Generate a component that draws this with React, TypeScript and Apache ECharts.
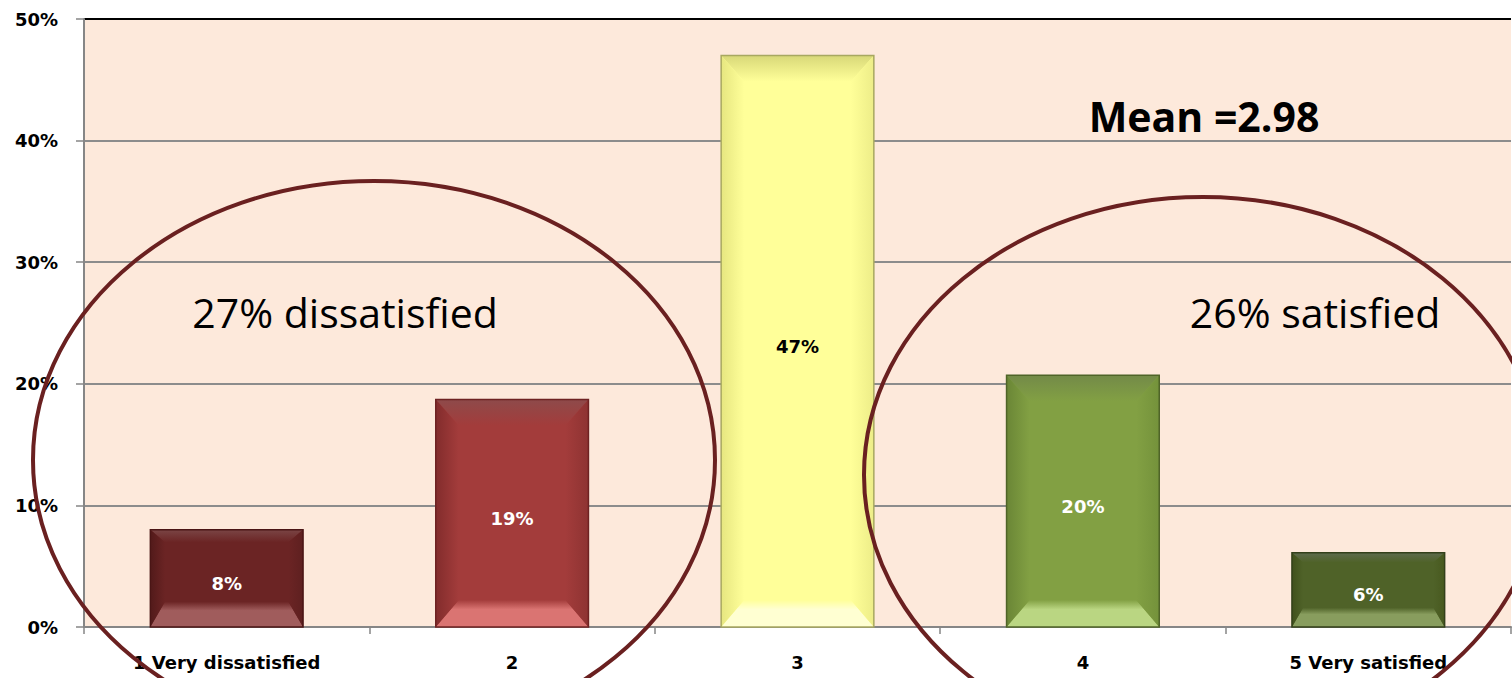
import React, { useEffect, useRef } from "react";
import * as echarts from "echarts";

const categories = ["1 Very dissatisfied", "2", "3", "4", "5 Very satisfied"];
const values = [8.0, 18.7, 47.0, 20.7, 6.1];
const valueLabels = ["8%", "19%", "47%", "20%", "6%"];
const yMin = 0;
const yMax = 50;
const yInterval = 10;

// face, top facet, bottom facet, left facet, right facet, outline, label colour
const faceColors = ["#6B2424", "#A33C3B", "#FFFF99", "#82A043", "#4F6228"];
const topColors = ["#7A4545", "#8E4A4A", "#D8D878", "#738A48", "#5E6B4E"];
const bottomColors = ["#A05C5C", "#DA7472", "#FFFFD2", "#BAD682", "#889D5E"];
const leftColors = ["#521A1A", "#822C2C", "#E6E680", "#6A8636", "#40511C"];
const rightColors = ["#5E2020", "#8E3332", "#EDED88", "#74923B", "#48591F"];
const outlineColors = ["#4A1515", "#6E2222", "#A8A860", "#4F6428", "#33401A"];
const labelColors = ["#FFFFFF", "#FFFFFF", "#000000", "#FFFFFF", "#FFFFFF"];

const annotations = {
  left: "27% dissatisfied",
  right: "26% satisfied",
  mean: "Mean =2.98",
};

export default function App() {
  const ref = useRef<HTMLDivElement>(null);

  useEffect(() => {
    if (!ref.current) return;
    const chart = echarts.init(ref.current, null, { renderer: "svg" });
    const LG = echarts.graphic.LinearGradient;

    const renderItem = (params: any, api: any) => {
      const idx = api.value(0);
      const val = api.value(1);
      const topPt = api.coord([idx, val]);
      const basePt = api.coord([idx, 0]);
      const cx = topPt[0];
      const top = topPt[1];
      const base = basePt[1];
      const bw = api.size([1, 0])[0] * 0.535;
      const l = cx - bw / 2;
      const r = cx + bw / 2;
      const h = base - top;
      const bx = Math.min(23, h * 0.15);
      const byTop = Math.min(26, h * 0.13);
      const byBot = Math.min(27, h * 0.26);
      const i = params.dataIndex;
      const f = faceColors[i];
      return {
        type: "group",
        children: [
          {
            type: "rect",
            shape: { x: l, y: top, width: bw, height: h },
            style: { fill: f },
          },
          {
            type: "polygon",
            shape: { points: [[l, top], [r, top], [r - bx, top + byTop], [l + bx, top + byTop]] },
            style: {
              fill: new LG(0, 0, 0, 1, [
                { offset: 0, color: topColors[i] },
                { offset: 1, color: f },
              ]),
            },
          },
          {
            type: "polygon",
            shape: { points: [[l, base], [r, base], [r - bx, base - byBot], [l + bx, base - byBot]] },
            style: {
              fill: new LG(0, 0, 0, 1, [
                { offset: 0, color: f },
                { offset: 0.35, color: bottomColors[i] },
                { offset: 1, color: bottomColors[i] },
              ]),
            },
          },
          {
            type: "polygon",
            shape: { points: [[l, top], [l + bx, top + byTop], [l + bx, base - byBot], [l, base]] },
            style: {
              fill: new LG(0, 0, 1, 0, [
                { offset: 0, color: leftColors[i] },
                { offset: 1, color: f },
              ]),
            },
          },
          {
            type: "polygon",
            shape: { points: [[r, top], [r - bx, top + byTop], [r - bx, base - byBot], [r, base]] },
            style: {
              fill: new LG(1, 0, 0, 0, [
                { offset: 0, color: rightColors[i] },
                { offset: 1, color: f },
              ]),
            },
          },
          {
            type: "rect",
            shape: { x: l, y: top, width: bw, height: h },
            style: { fill: "none", stroke: outlineColors[i], lineWidth: 1.5 },
          },
          {
            type: "text",
            x: cx,
            y: (top + base) / 2 + 5,
            style: {
              text: valueLabels[i],
              fill: labelColors[i],
              fontFamily: "DejaVu Sans",
              fontWeight: "bold",
              fontSize: 18,
              align: "center",
              verticalAlign: "middle",
            },
          },
        ],
      };
    };

    chart.setOption({
      animation: false,
      backgroundColor: "#FFFFFF",
      grid: {
        left: 84,
        right: 1,
        top: 19,
        bottom: 51,
        show: true,
        backgroundColor: "#FDE9DB",
        borderWidth: 0,
        outerBoundsMode: "none",
        containLabel: false,
      },
      xAxis: {
        type: "category",
        data: categories,
        axisLine: { show: true, lineStyle: { color: "#868686", width: 2 } },
        axisTick: { show: true, length: 7, lineStyle: { color: "#868686", width: 1.5 } },
        axisLabel: {
          color: "#000",
          fontFamily: "DejaVu Sans",
          fontWeight: "bold",
          fontSize: 18,
          margin: 26,
          interval: 0,
        },
        splitLine: { show: false },
      },
      yAxis: {
        type: "value",
        min: yMin,
        max: yMax,
        interval: yInterval,
        axisLine: { show: true, lineStyle: { color: "#868686", width: 2 } },
        axisTick: { show: true, length: 8, lineStyle: { color: "#868686", width: 1.5 } },
        axisLabel: {
          formatter: "{value}%",
          color: "#000",
          fontFamily: "DejaVu Sans",
          fontWeight: "bold",
          fontSize: 18,
          margin: 26,
        },
        splitLine: {
          show: true,
          lineStyle: {
            color: ["#8C8C8C", "#8C8C8C", "#8C8C8C", "#8C8C8C", "#8C8C8C", "#000000"],
            width: 1.8,
          },
        },
      },
      series: [
        {
          type: "custom",
          renderItem,
          data: values.map((v, i) => [i, v]),
          encode: { x: 0, y: 1 },
          z: 3,
        },
      ],
      graphic: [
        {
          type: "ellipse",
          z: 100,
          shape: { cx: 374, cy: 460, rx: 341, ry: 279 },
          style: { fill: "none", stroke: "#6A2020", lineWidth: 4 },
        },
        {
          type: "ellipse",
          z: 100,
          shape: { cx: 1203, cy: 475, rx: 339, ry: 278 },
          style: { fill: "none", stroke: "#6A2020", lineWidth: 4 },
        },
        {
          type: "text",
          z: 100,
          x: 345,
          y: 312,
          style: {
            text: annotations.left,
            fill: "#000",
            fontFamily: "Open Sans",
            fontSize: 41,
            align: "center",
            verticalAlign: "middle",
          },
        },
        {
          type: "text",
          z: 100,
          x: 1315,
          y: 312,
          style: {
            text: annotations.right,
            fill: "#000",
            fontFamily: "Open Sans",
            fontSize: 41,
            align: "center",
            verticalAlign: "middle",
          },
        },
        {
          type: "text",
          z: 100,
          x: 1204,
          y: 116,
          style: {
            text: annotations.mean,
            fill: "#000",
            fontFamily: "Open Sans",
            fontWeight: "bold",
            fontSize: 41,
            align: "center",
            verticalAlign: "middle",
          },
        },
      ],
    });

    return () => chart.dispose();
  }, []);

  return (
    <div
      ref={ref}
      style={{ position: "absolute", left: 0, top: 0, width: 1512, height: 678 }}
    />
  );
}
